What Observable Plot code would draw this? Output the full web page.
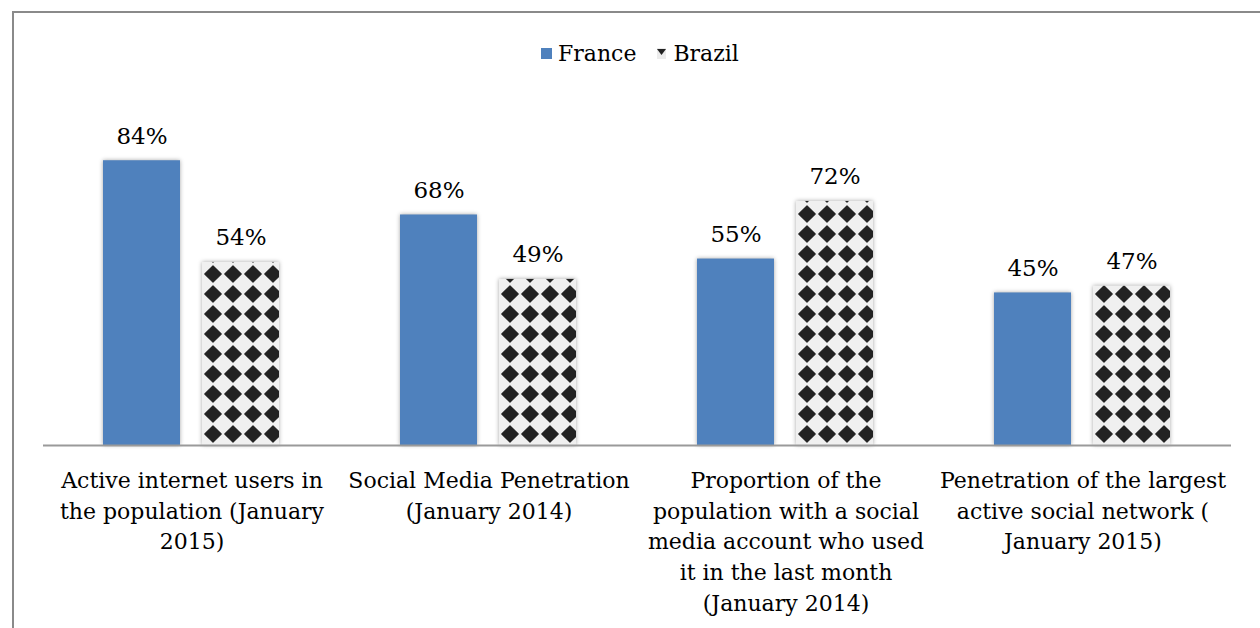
<!DOCTYPE html>
<html>
<head>
<meta charset="utf-8">
<script src="https://cdn.jsdelivr.net/npm/d3@7"></script>
<script src="https://cdn.jsdelivr.net/npm/@observablehq/plot@0.6"></script>
<style>
  html, body { margin: 0; padding: 0; background: #fff; }
  #wrap { position: relative; width: 1260px; height: 628px; overflow: hidden; font-family: "DejaVu Serif", serif; }
  #frame { position: absolute; left: 12px; top: 11px; width: 1300px; height: 700px; border-left: 2px solid #8a8a8a; border-top: 2px solid #8a8a8a; }
  #chart { position: absolute; left: 0; top: 0; }
  #legend { position: absolute; left: 541px; top: 41px; display: flex; align-items: center; font-size: 22px; color: #000; white-space: nowrap; }
  .sw { display: inline-block; margin-right: 6px; }
</style>
</head>
<body>
<div id="wrap">
  <div id="frame"></div>
  <div id="chart"></div>
  <div id="legend"></div>
</div>
<script>
const categories = [
  "Active internet users in the population (January 2015)",
  "Social Media Penetration (January 2014)",
  "Proportion of the population with a social media account who used it in the last month (January 2014)",
  "Penetration of the largest active social network ( January 2015)"
];
const tickLabels = [
  "Active internet users in\nthe population (January\n2015)",
  "Social Media Penetration\n(January 2014)",
  "Proportion of the\npopulation with a social\nmedia account who used\nit in the last month\n(January 2014)",
  "Penetration of the largest\nactive social network (\nJanuary 2015)"
];
const series = ["France", "Brazil"];
const france = [0.84, 0.68, 0.55, 0.45];
const brazil = [0.54, 0.49, 0.72, 0.47];
const seriesColors = ["#4f81bd", "url(#diamonds)"];

const data = [];
categories.forEach((c, i) => {
  data.push({category: c, series: "France", value: france[i]});
  data.push({category: c, series: "Brazil", value: brazil[i]});
});
const labelOf = new Map(categories.map((c, i) => [c, tickLabels[i]]));

const svg = Plot.plot({
  width: 1260,
  height: 628,
  marginLeft: 42,
  marginRight: 28,
  marginTop: 106,
  marginBottom: 183,
  style: {fontFamily: "DejaVu Serif, serif", fontSize: "22px", color: "#000", background: "transparent", overflow: "visible"},
  fx: {domain: categories, padding: 0, axis: null},
  x: {domain: series, paddingInner: 0.22, paddingOuter: 0.6, axis: null},
  y: {domain: [0, 1], axis: null},
  color: {domain: series, range: seriesColors},
  marks: [
    Plot.barY(data, {fx: "category", x: "series", y: "value", fill: "series"}),
    Plot.ruleY([0], {stroke: "#9a9a9a", strokeWidth: 2}),
    Plot.text(data, {fx: "category", x: "series", y: "value", text: d => d3.format(".0%")(d.value),
      lineAnchor: "bottom", dy: -17, fontSize: 23, fill: "#000"}),
    Plot.axisFx({anchor: "bottom", tickSize: 0, tickPadding: 21, label: null,
      tickFormat: d => labelOf.get(d), fontSize: 22, lineHeight: 1.39, lineAnchor: "top", fill: "#000"})
  ]
});

// pattern defs
const defs = d3.select(svg).insert("defs", ":first-child");
const pat = defs.append("pattern").attr("id", "diamonds").attr("patternUnits", "userSpaceOnUse")
  .attr("width", 20).attr("height", 20).attr("x", 2).attr("y", 4);
pat.append("rect").attr("width", 20).attr("height", 20).attr("fill", "#f0f0f0");
pat.append("path").attr("d", "M10,1.8 L18.2,10 L10,18.2 L1.8,10 Z").attr("fill", "#222")
  .attr("stroke", "#222").attr("stroke-width", 1.2).attr("stroke-linejoin", "round");
d3.select(svg).selectAll("g[aria-label=bar] rect").style("filter", "drop-shadow(0px 0px 2px rgba(0,0,0,0.35))");

document.getElementById("chart").appendChild(svg);

// legend
const legend = d3.select("#legend");
series.forEach((s, i) => {
  const item = legend.append("span").style("display", "inline-flex").style("align-items", "center")
    .style("margin-right", i === 0 ? "20px" : "0");
  const sw = item.append("svg").attr("class", "sw").attr("width", 11).attr("height", 11);
  if (i === 0) {
    sw.append("rect").attr("width", 11).attr("height", 11).attr("fill", seriesColors[0]);
  } else {
    sw.append("rect").attr("x", 1).attr("width", 9).attr("height", 11).attr("fill", "#ececec");
    sw.append("path").attr("d", "M1,1 L10,1 L5.5,7 Z").attr("fill", "#222");
  }
  item.append("span").text(s);
});
</script>
</body>
</html>
